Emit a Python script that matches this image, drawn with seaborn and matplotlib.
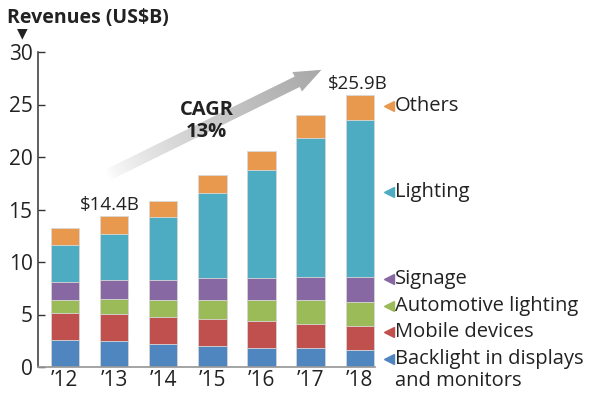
import matplotlib
matplotlib.use("Agg")
import matplotlib.pyplot as plt
import matplotlib.transforms as mtransforms
from matplotlib.colors import LinearSegmentedColormap
from matplotlib.patches import Polygon
import numpy as np
import pandas as pd
import seaborn as sns

YEARS = ["\u201912", "\u201913", "\u201914", "\u201915", "\u201916", "\u201917", "\u201918"]
SEGMENTS = [
    "Backlight in displays\nand monitors",
    "Mobile devices",
    "Automotive lighting",
    "Signage",
    "Lighting",
    "Others",
]
BACKLIGHT = [2.60, 2.45, 2.22, 2.00, 1.84, 1.83, 1.59]
MOBILE = [2.54, 2.63, 2.54, 2.54, 2.54, 2.30, 2.31]
AUTOMOTIVE = [1.21, 1.37, 1.59, 1.81, 1.97, 2.22, 2.29]
SIGNAGE = [1.78, 1.84, 1.94, 2.10, 2.10, 2.22, 2.38]
LIGHTING = [3.52, 4.41, 6.00, 8.15, 10.28, 13.23, 14.99]
OTHERS = [1.59, 1.70, 1.50, 1.70, 1.81, 2.17, 2.34]
COLORS = ["#4f86c0", "#c0504d", "#9bbb59", "#8768a3", "#4eacc2", "#e8994e"]
LABEL_Y = [0.8, 3.3, 5.8, 8.35, 16.7, 24.9]
TEXT = "#222222"

sns.set_theme(style="white")
plt.rcParams["font.family"] = ["Open Sans", "DejaVu Sans"]

values = [BACKLIGHT, MOBILE, AUTOMOTIVE, SIGNAGE, LIGHTING, OTHERS]
rows = []
for seg, vals in zip(SEGMENTS, values):
    for yr, v in zip(YEARS, vals):
        rows.append({"year": yr, "segment": seg, "value": v})
df = pd.DataFrame(rows)
df["top"] = df.groupby("year")["value"].cumsum()

fig = plt.figure(figsize=(6.0, 3.98), dpi=100)
ax = fig.add_axes([38 / 600, 1 - 367 / 398, 337 / 600, 315 / 398])

# stacked bars: draw cumulative heights from the top segment down
for seg, color in reversed(list(zip(SEGMENTS, COLORS))):
    sub = df[df["segment"] == seg]
    sns.barplot(data=sub, x="year", y="top", color=color, width=0.58,
                saturation=1, edgecolor="#d9d9d9", linewidth=0.6, ax=ax)

ax.set_xlim(-0.545, 6.31)
ax.set_ylim(0, 30)
ax.set_yticks(range(0, 31, 5))
ax.set_xlabel("")
ax.set_ylabel("")
for side in ("top", "right"):
    ax.spines[side].set_visible(False)
ax.spines["left"].set_color("#333333")
ax.spines["bottom"].set_color("#999999")
ax.spines["left"].set_linewidth(1.1)
ax.tick_params(axis="y", direction="in", length=5, width=1.0, color="#333333",
               labelsize=15, pad=4, left=True)
ax.tick_params(axis="x", length=0, labelsize=15, pad=2)
for lab in ax.get_yticklabels() + ax.get_xticklabels():
    lab.set_color(TEXT)

fig.text(7 / 600, 1 - 17.5 / 398, "Revenues (US$B)", fontsize=14,
         fontweight="bold", color=TEXT, va="center", ha="left")
fig.text(22.5 / 600, 1 - 33 / 398, "\u25bc", fontsize=10, color=TEXT,
         va="center", ha="center", family="DejaVu Sans")

# segment labels at right
trans = mtransforms.blended_transform_factory(ax.transAxes, ax.transData)
for seg, color, y in zip(SEGMENTS, COLORS, LABEL_Y):
    ax.plot([1.042], [y], marker="<", markersize=6.5, color=color,
            transform=trans, clip_on=False, linestyle="none")
    first, *rest = seg.split("\n")
    ax.text(1.06, y, first, transform=trans, fontsize=14.5,
            color=TEXT, va="center", ha="left", clip_on=False)
    if rest:
        ax.text(1.06, y - 2.1, rest[0], transform=trans, fontsize=14.5,
                color=TEXT, va="center", ha="left", clip_on=False)

# gradient arrow (pixel space overlay)
overlay = fig.add_axes([0, 0, 1, 1], zorder=5)
overlay.set_xlim(0, 600)
overlay.set_ylim(0, 398)
overlay.axis("off")
overlay.patch.set_visible(False)

p0 = ax.transData.transform((0.86, 18.26))
p1 = ax.transData.transform((5.22, 28.3))
d = p1 - p0
u = d / np.hypot(*d)
n = np.array([-u[1], u[0]])
sw, hw, hl = 5.8, 10.8, 27
base = p1 - u * hl
pts = np.array([p0 + n * sw, base + n * sw, base + n * hw, p1,
                base - n * hw, base - n * sw, p0 - n * sw])
poly = Polygon(pts, closed=True, facecolor="none", edgecolor="none")
overlay.add_patch(poly)
xmin, ymin = pts.min(axis=0) - 2
xmax, ymax = pts.max(axis=0) + 2
gx, gy = np.meshgrid(np.linspace(xmin, xmax, 300), np.linspace(ymin, ymax, 200))
t = ((gx - p0[0]) * u[0] + (gy - p0[1]) * u[1]) / np.hypot(*d)
t = np.clip(t, 0, 1) ** 0.7
cmap = LinearSegmentedColormap.from_list("arrow", ["#ffffff", "#a8a8a8"])
im = overlay.imshow(t, extent=[xmin, xmax, ymin, ymax], origin="lower", cmap=cmap,
                    vmin=0, vmax=1, aspect="auto", interpolation="bilinear")
im.set_clip_path(poly)

# annotations drawn on top of the arrow
totals = df.groupby("year", sort=False)["value"].sum()
ax_to_pix = ax.transData + overlay.transData.inverted()
for xi, yi, s in [(0.92, 15.0, f"${totals.iloc[1]:.1f}B"),
                  (5.95, 26.5, f"${totals.iloc[-1]:.1f}B")]:
    px, py = ax_to_pix.transform((xi, yi))
    overlay.text(px, py, s, fontsize=13.5, color=TEXT, ha="center", va="baseline", zorder=10)
px, py = ax_to_pix.transform((2.88, 23.45))
overlay.text(px, py, "CAGR\n13%", fontsize=14.5, fontweight="bold", color=TEXT,
             ha="center", va="center", linespacing=1.1, zorder=10)

fig.savefig("out.png", dpi=100)
